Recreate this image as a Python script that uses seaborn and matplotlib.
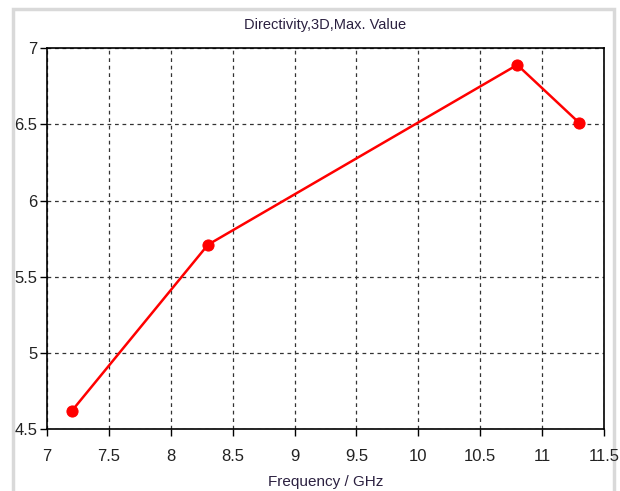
import seaborn as sns
import matplotlib.pyplot as plt
import matplotlib.patches as mpatches
import pandas as pd

# Data
freq = [7.2, 8.3, 10.8, 11.3]
directivity = [4.62, 5.71, 6.89, 6.51]
x_ticks = [7, 7.5, 8, 8.5, 9, 9.5, 10, 10.5, 11, 11.5]
y_ticks = [4.5, 5, 5.5, 6, 6.5, 7]

df = pd.DataFrame({"Frequency": freq, "Directivity": directivity})

sns.set_theme(style="white")
plt.rcParams['font.family'] = ['Liberation Sans', 'DejaVu Sans']

fig = plt.figure(figsize=(6.2, 4.91), dpi=100)
ax = fig.add_axes([0.076, 0.126, 0.898, 0.776])

# light gray frame around the plot area
fig.patches.append(mpatches.Rectangle((13 / 620, -0.05), 601 / 620, 1.05 - 9 / 491,
                                      transform=fig.transFigure, fill=False,
                                      edgecolor='#d9d9d9', linewidth=2.5,
                                      zorder=-1))

sns.lineplot(data=df, x="Frequency", y="Directivity", color='red',
             marker='o', markersize=8, markeredgecolor='red',
             linewidth=1.8, ax=ax)

ax.set_xlim(7, 11.5)
ax.set_ylim(4.5, 7)
ax.set_xticks(x_ticks)
ax.set_xticklabels([f"{t:g}" for t in x_ticks])
ax.set_yticks(y_ticks)
ax.set_yticklabels([f"{t:g}" for t in y_ticks])

ax.grid(True, color='#333333', linestyle=(0, (3, 3)), linewidth=0.9)
for s in ax.spines.values():
    s.set_color('black')
    s.set_linewidth(1.2)

ax.tick_params(axis='both', direction='out', length=5, width=1,
               bottom=True, left=True, colors='black', labelsize=12,
               labelcolor='#222222')
ax.tick_params(axis='x', pad=9)
ax.tick_params(axis='y', pad=2)
ax.set_xlabel("Frequency / GHz", fontsize=11, color='#2b2040', labelpad=8)
ax.set_ylabel("")
ax.set_title("Directivity,3D,Max. Value", fontsize=10.5, color='#2b2040', pad=14)

plt.savefig('out.png', dpi=100)
